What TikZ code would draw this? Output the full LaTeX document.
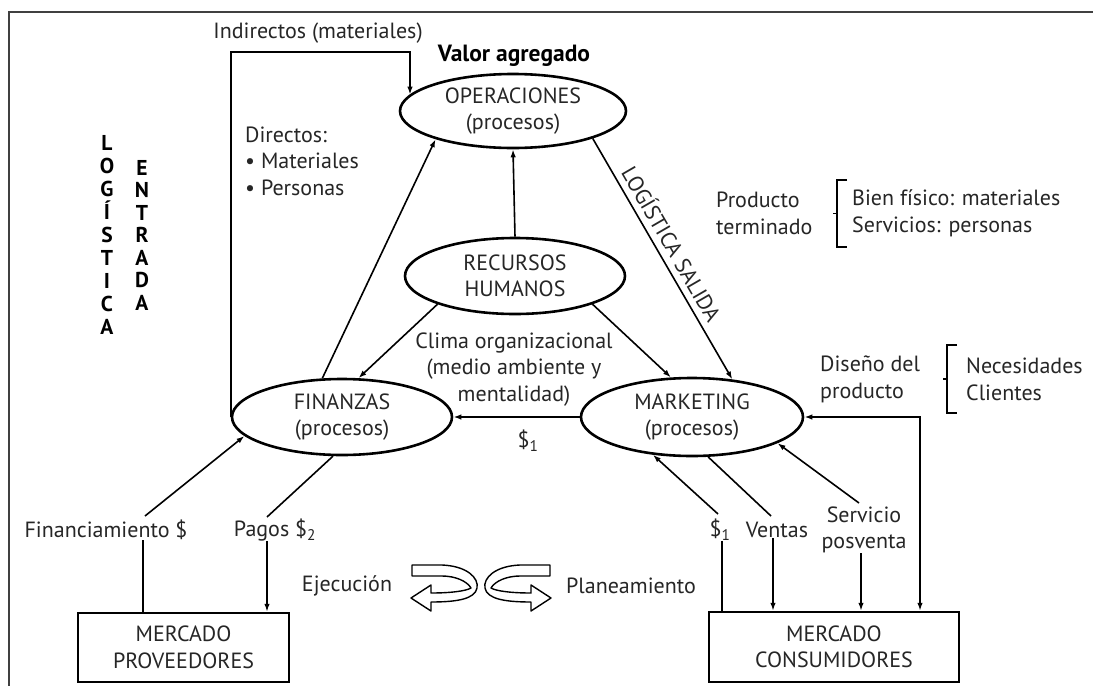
\documentclass[tikz,border=0pt]{standalone}
\usepackage{fontspec}
\setmainfont{PT Sans}
\usetikzlibrary{arrows.meta,shapes.geometric}
\begin{document}
\begin{tikzpicture}[x=1pt,y=-1pt,
  every node/.style={font=\fontsize{22}{26.5}\selectfont, text=black!85, align=center, inner sep=0pt},
  ell/.style={ellipse, draw, line width=2.6pt},
  mbox/.style={rectangle, draw, line width=2.4pt},
  link/.style={line width=1.6pt},
  arr/.style={link, -{Latex[length=8pt,width=5.5pt]}},
  dbl/.style={link, {Latex[length=8pt,width=5.5pt]}-{Latex[length=8pt,width=5.5pt]}},
  twist/.style={line width=1.4pt, fill=white, line join=round},
  brk/.style={line width=1.4pt},
  vert/.style={font=\fontsize{21.5}{23}\selectfont\bfseries, text=black}
]
\useasboundingbox (0,0) rectangle (1093,686);
\fill[white] (0,0) rectangle (1093,686);

% frame
\draw[black!75, line width=2pt] (8,12) -- (1093,12);
\draw[black!75, line width=2pt] (9,12) -- (9,686);

% main process ellipses
\node[ell, minimum width=226pt, minimum height=74pt] (ops) at (513,111) {OPERACIONES\\(procesos)};
\node[ell, minimum width=220pt, minimum height=76pt] (rh)  at (515,276) {RECURSOS\\HUMANOS};
\node[ell, minimum width=220pt, minimum height=76pt] (fin) at (342,417) {FINANZAS\\(procesos)};
\node[ell, minimum width=222pt, minimum height=78pt] (mkt) at (692,417) {MARKETING\\(procesos)};

% markets
\node[mbox, minimum width=211pt, minimum height=69pt] (prov) at (183.5,647.5) {MERCADO\\PROVEEDORES};
\node[mbox, minimum width=250pt, minimum height=70pt] (cons) at (834,647) {MERCADO\\CONSUMIDORES};

% labels
\node (indir) at (318,33) {Indirectos (materiales)};
\node[font=\fontsize{23.5}{26}\selectfont\bfseries, text=black] (valor) at (514,56) {Valor agregado};
\node[anchor=west, align=left] (dir) at (245,161) {Directos:\\• Materiales\\• Personas};
\node[vert] (log1) at (107,235) {L\\O\\G\\Í\\S\\T\\I\\C\\A};
\node[vert, font=\fontsize{21.5}{22.5}\selectfont\bfseries] (log2) at (142,235) {E\\N\\T\\R\\A\\D\\A};
\node (clima) at (514,369.5) {Clima organizacional\\(medio ambiente y\\mentalidad)};
\node (s1) at (528,441) {\$\textsubscript{1}};
\node[anchor=west, align=left] (prod) at (716,213.5) {Producto\\terminado};
\node[anchor=west, align=left] (bien) at (852,213.5) {Bien físico: materiales\\Servicios: personas};
\node[anchor=west, align=left] (dis) at (820,379.5) {Diseño del\\producto};
\node[anchor=west, align=left] (nec) at (966,379.5) {Necesidades\\Clientes};
\node (fl) at (106,530) {Financiamiento \$};
\node (pl) at (275,530) {Pagos \$\textsubscript{2}};
\node (m1) at (720,530) {\$\textsubscript{1}};
\node (ventas) at (777,530) {Ventas};
\node (serv) at (864,530) {Servicio\\posventa};
\node (ejec) at (347,586) {Ejecución};
\node (plan) at (631,586) {Planeamiento};

% brackets
\draw[brk] (847,180) -- (837,180) -- (837,247) -- (847,247);
\draw[brk] (837,213.5) -- (833,213.5);
\draw[brk] (957,345) -- (947,345) -- (947,413) -- (957,413);
\draw[brk] (947,379) -- (943,379);

% indirect materials loop
\coordinate (ic) at (410,52);
\draw[arr] (fin.west) |- (ic) -- (ic |- ops.171.6);

% internal flows
\draw[arr] (rh.north) -- (ops.south);
\draw[arr] (fin.117) -- (ops.200);
\draw[arr] (rh.200) -- (fin.67);
\draw[arr] (rh.-20) -- (mkt.118);
\draw[arr] (ops.-19) -- node[pos=0.47, sloped, above=6pt] {LOGÍSTICA SALIDA} (mkt.43);
\draw[arr] (mkt.west) -- (fin.east);

% marketing <-> consumers
\coordinate (cr) at (920,417);
\draw[dbl] (mkt.east) -- (cr) -- (cr |- cons.north);

% finance <-> suppliers
\coordinate (fa) at (145,516);
\coordinate (fv) at (143,0);
\coordinate (pa) at (267,517);
\coordinate (pv) at (267,0);
\draw[arr] (fa) -- (fin.191);
\draw[link] (fl.south -| fv) -- (fv |- prov.north);
\draw[link] (fin.257) -- (pa);
\draw[arr] (pl.south -| pv) -- (pv |- prov.north);

% marketing <-> consumers, lower flows
\coordinate (ma) at (718,514);
\coordinate (mv) at (722,0);
\coordinate (va) at (771,516);
\coordinate (vv) at (773,0);
\coordinate (sa) at (859,503);
\coordinate (sv) at (861,0);
\draw[arr] (ma) -- (mkt.224);
\draw[link] (m1.south -| mv) -- (mv |- cons.north);
\draw[link] (mkt.292) -- (va);
\draw[arr] (ventas.south -| vv) -- (vv |- cons.north);
\draw[arr] (sa) -- (mkt.-17.5);
\draw[arr] (serv.south -| sv) -- (sv |- cons.north);

% execution / planning cycle symbol
\draw[twist] (412,565) -- (442,565) .. controls (467,566) and (479,578) .. (477,588)
  .. controls (475,599) and (457,602) .. (431,602) -- (431,611) -- (411,598) -- (431,585)
  -- (431,593) .. controls (451,593) and (466,591) .. (471,588)
  .. controls (467,581) and (455,576) .. (442,576) -- (412,576) -- cycle;
\begin{scope}[shift={(962,0)}, xscale=-1]
\draw[twist] (412,565) -- (442,565) .. controls (467,566) and (479,578) .. (477,588)
  .. controls (475,599) and (457,602) .. (431,602) -- (431,611) -- (411,598) -- (431,585)
  -- (431,593) .. controls (451,593) and (466,591) .. (471,588)
  .. controls (467,581) and (455,576) .. (442,576) -- (412,576) -- cycle;
\end{scope}
\end{tikzpicture}
\end{document}
